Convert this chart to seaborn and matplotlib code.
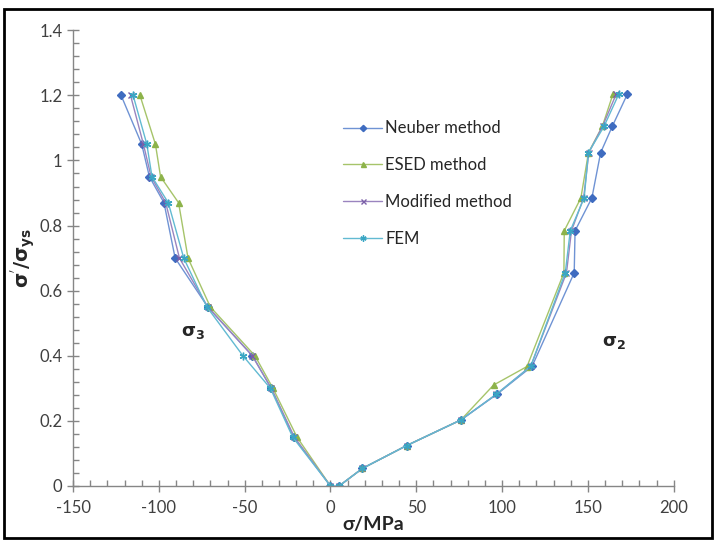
import seaborn as sns
import pandas as pd
import numpy as np
import matplotlib.pyplot as plt
from matplotlib.ticker import MultipleLocator
from matplotlib.patches import Rectangle

# sigma_3 branch (compressive side), ends at the origin
y_left = [1.2, 1.05, 0.95, 0.87, 0.7, 0.55, 0.4, 0.3, 0.15, 0.0]
neuber_left = [-122, -110, -105.5, -97, -90.5, -71.5, -45.5, -34.5, -21.5, 0]
esed_left = [-111, -102, -99, -88.5, -83, -70, -44, -33.5, -19.5, 0]
modified_left = [-116.5, -109, -104.5, -96, -88, -71.5, -45.5, -34.5, -21, 0]
fem_left = [-115, -107, -104, -94.5, -85.5, -72, -51, -35, -22, 0]

# sigma_2 branch (tensile side)
y_right = [0.0, 0.054, 0.124, 0.203, 0.282, 0.368, 0.655, 0.784, 0.885, 1.024, 1.105, 1.204]
y_right_esed = [0.0, 0.054, 0.124, 0.203, 0.31, 0.367, 0.655, 0.784, 0.885, 1.024, 1.105, 1.204]
neuber_right = [5, 18.6, 44.3, 76, 97, 117.5, 142, 142.5, 152.3, 157.4, 164.2, 173]
esed_right = [5, 18.6, 44.3, 76, 95, 114.5, 136, 136.2, 145.9, 150.3, 158.4, 164.6]
modified_right = [5, 18.6, 44.3, 76, 96.7, 116.7, 137.5, 140.4, 147.5, 150.5, 158.5, 166.5]
fem_right = [5, 18.6, 44.3, 76, 96.7, 116.7, 136.8, 139.7, 147.8, 150.3, 159.4, 168]

methods = ['Neuber method', 'ESED method', 'Modified method', 'FEM']
left_x = [neuber_left, esed_left, modified_left, fem_left]
right_x = [neuber_right, esed_right, modified_right, fem_right]
right_y = [y_right, y_right_esed, y_right, y_right]

line_colors = ['#6f93d4', '#a6c46a', '#9a84bf', '#62bad2']
marker_colors = ['#3f6cc0', '#8db34a', '#7b5fa8', '#3aa6c4']
markers = ['D', '^', 'x', (6, 2, 0)]
msizes = [4, 4.5, 4.5, 5.5]

sns.set_style('white')
plt.rcParams['font.family'] = ['Lato', 'DejaVu Sans']

fig = plt.figure(figsize=(7.16, 5.40), dpi=100)
ax = fig.add_axes([0.102, 0.1, 0.839, 0.844])

for m, lx, rx, ry, lc, mc, mk, ms in zip(methods, left_x, right_x, right_y,
                                         line_colors, marker_colors, markers, msizes):
    d = pd.DataFrame({
        'sigma': lx + rx,
        'ratio': y_left + ry,
        'branch': ['left'] * len(lx) + ['right'] * len(rx),
    })
    sns.lineplot(data=d, x='sigma', y='ratio', units='branch', estimator=None,
                 sort=False, color=lc, marker=mk, markersize=ms,
                 markerfacecolor=mc, markeredgecolor=mc, markeredgewidth=1.0,
                 linewidth=1.0, label=m, ax=ax)

ax.set_xlim(-150, 200)
ax.set_ylim(0, 1.4)
ax.xaxis.set_minor_locator(MultipleLocator(10))
ax.yaxis.set_minor_locator(MultipleLocator(0.04))
ax.set_xticks(np.arange(-150, 201, 50))
ax.set_xticklabels(['-150', '-100', '-50', '0', '50', '100', '150', '200'])
ax.set_yticks(np.arange(0, 1.41, 0.2))
ax.set_yticklabels(['0', '0.2', '0.4', '0.6', '0.8', '1', '1.2', '1.4'])

for s in ['top', 'right']:
    ax.spines[s].set_visible(False)
for s in ['left', 'bottom']:
    ax.spines[s].set_color('#868686')
    ax.spines[s].set_linewidth(1.0)
ax.tick_params(which='major', direction='inout', length=8, width=1, color='#868686',
               labelsize=12, labelcolor='#404040', bottom=True, left=True)
ax.tick_params(which='minor', direction='in', length=4, width=1, color='#868686',
               bottom=True, left=True)
ax.tick_params(axis='x', pad=6)

ax.set_xlabel('σ/MPa', fontsize=14, fontweight='bold', labelpad=0)
ax.set_ylabel(r"$\mathbf{\sigma^{'}/\sigma_{ys}}$", fontsize=14, labelpad=2)

ax.text(-80, 0.47, r'$\mathbf{\sigma_3}$', fontsize=13, ha='center', va='center')
ax.text(165, 0.44, r'$\mathbf{\sigma_2}$', fontsize=13, ha='center', va='center')

handles, labels = ax.get_legend_handles_labels()
seen = {}
for h, l in zip(handles, labels):
    if l not in seen:
        seen[l] = h
ax.legend(list(seen.values()), list(seen.keys()), loc='upper left',
          bbox_to_anchor=(0.425, 0.835), frameon=False, fontsize=12,
          labelspacing=1.25, handlelength=2.3, handletextpad=0.2, markerscale=0.8)

fig.patches.append(Rectangle((0.006, 0.003), 0.989, 0.98, transform=fig.transFigure,
                             fill=False, edgecolor='black', linewidth=2))

fig.savefig('out.png', dpi=100)
